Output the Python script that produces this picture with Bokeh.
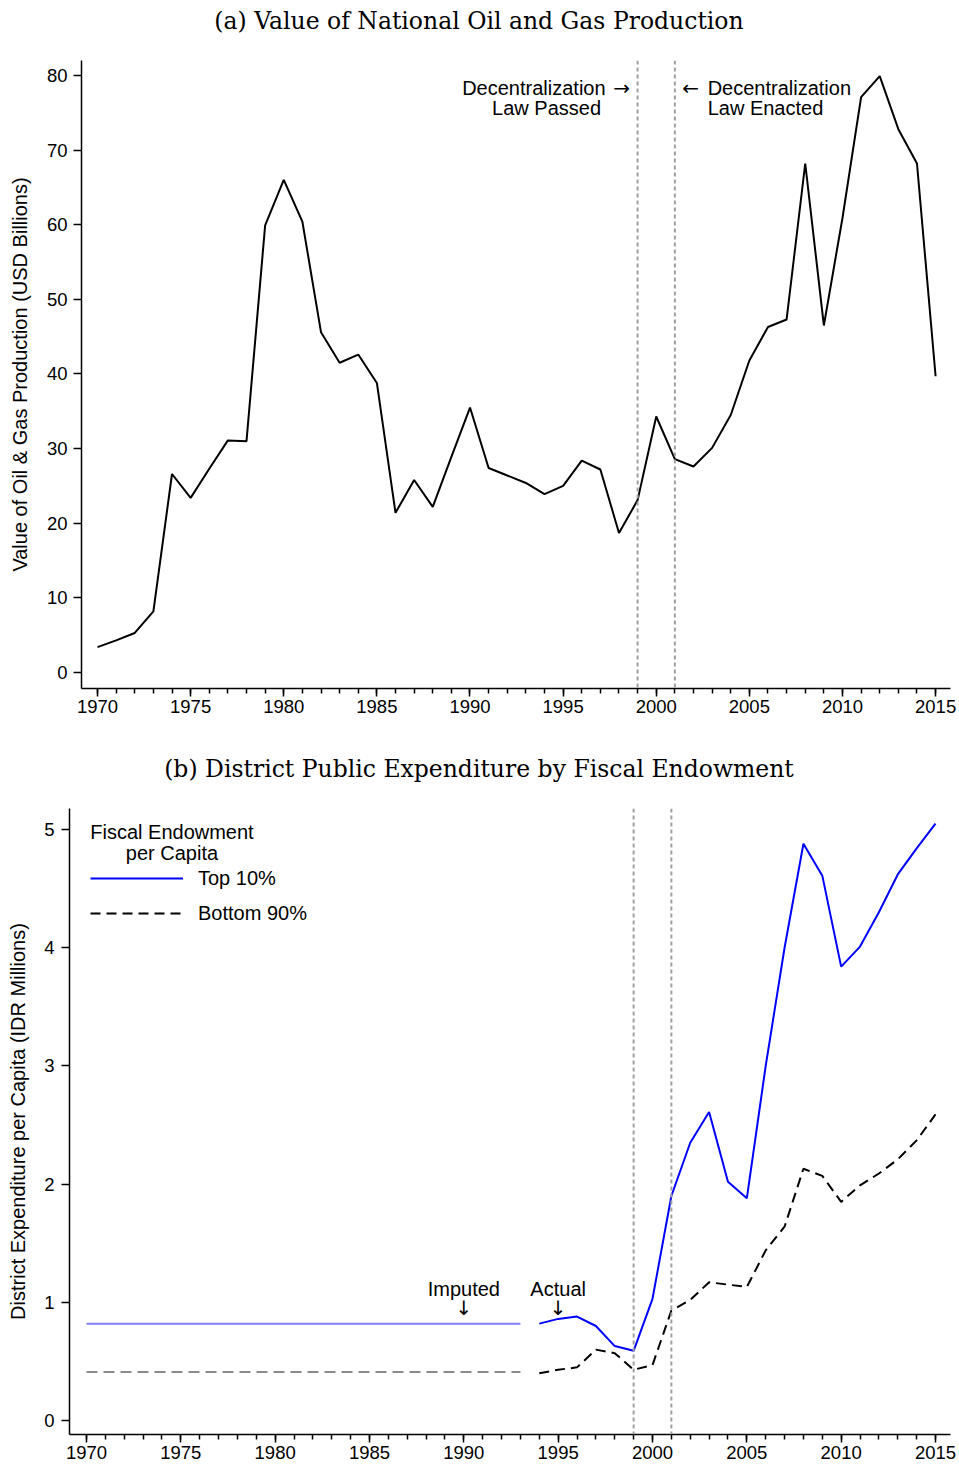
from bokeh.plotting import figure
from bokeh.layouts import column, row
from bokeh.models import Span, Label, Legend, LegendItem, SingleIntervalTicker, Range1d
from bokeh.embed import file_html
from bokeh.resources import INLINE

# ---- panel (a): value of national oil & gas production, USD billions
years = list(range(1970, 2016))
oil_gas_value = [3.4, 4.3, 5.3, 8.2, 26.6, 23.4, 27.3, 31.1, 31.0, 59.9,
                 66.0, 60.4, 45.6, 41.5, 42.6, 38.8, 21.4, 25.8, 22.2, 28.9,
                 35.5, 27.4, 26.4, 25.4, 23.9, 25.0, 28.4, 27.2, 18.7, 23.1,
                 34.3, 28.6, 27.6, 30.1, 34.5, 41.8, 46.3, 47.3, 68.2, 46.5,
                 60.9, 77.1, 79.9, 72.8, 68.2, 39.7]

# decentralization law passed / enacted
law_years = [1999, 2001]

# ---- panel (b): district expenditure per capita, IDR millions
imputed_years = [1970, 1971, 1972, 1973, 1974, 1975, 1976, 1977, 1978, 1979, 1980, 1981,
                 1982, 1983, 1984, 1985, 1986, 1987, 1988, 1989, 1990, 1991, 1992, 1993]
top10_imputed = [0.82, 0.82, 0.82, 0.82, 0.82, 0.82, 0.82, 0.82, 0.82, 0.82, 0.82, 0.82,
                 0.82, 0.82, 0.82, 0.82, 0.82, 0.82, 0.82, 0.82, 0.82, 0.82, 0.82, 0.82]
bottom90_imputed = [0.41, 0.41, 0.41, 0.41, 0.41, 0.41, 0.41, 0.41, 0.41, 0.41, 0.41, 0.41,
                    0.41, 0.41, 0.41, 0.41, 0.41, 0.41, 0.41, 0.41, 0.41, 0.41, 0.41, 0.41]

actual_years = [1994, 1995, 1996, 1997, 1998, 1999, 2000, 2001, 2002, 2003, 2004,
                2005, 2006, 2007, 2008, 2009, 2010, 2011, 2012, 2013, 2014, 2015]
top10_actual = [0.82, 0.86, 0.88, 0.80, 0.63, 0.59, 1.03, 1.90, 2.35, 2.61, 2.02,
                1.88, 3.00, 4.00, 4.88, 4.61, 3.84, 4.01, 4.30, 4.62, 4.84, 5.05]
bottom90_actual = [0.40, 0.43, 0.45, 0.60, 0.57, 0.43, 0.47, 0.93, 1.02, 1.17, 1.15,
                   1.13, 1.44, 1.64, 2.13, 2.07, 1.85, 1.99, 2.09, 2.21, 2.37, 2.59]

SANS = "Liberation Sans"
SERIF = "DejaVu Serif"
ARROWS = "DejaVu Sans"
W = 957
RIGHT = 7


def heading(text, height, y):
    # a thin axis-less strip that only carries the panel heading
    p = figure(width=W, height=height, output_backend="svg", toolbar_location=None,
               x_axis_type=None, y_axis_type=None,
               x_range=Range1d(81, W - RIGHT), y_range=Range1d(0, height),
               min_border_left=81, min_border_right=RIGHT, min_border_top=0, min_border_bottom=0)
    p.outline_line_color = None
    p.grid.visible = False
    p.add_layout(Label(x=W / 2, y=y, text=text, text_align="center", text_baseline="middle",
                       text_font=SERIF, text_font_size="23.5px", text_color="black"))
    return p


def style(p, y_interval, label, tick_standoff, label_standoff):
    p.outline_line_color = None
    p.grid.visible = False
    p.background_fill_color = "white"
    p.border_fill_color = "white"

    xa = p.xaxis[0]
    xa.ticker = SingleIntervalTicker(interval=5, num_minor_ticks=5)
    xa.major_tick_out = 8
    xa.major_tick_in = 0
    xa.minor_tick_out = 5
    xa.minor_tick_in = 0
    xa.major_label_standoff = 3
    xa.minor_tick_line_color = "black"

    ya = p.yaxis[0]
    ya.ticker = SingleIntervalTicker(interval=y_interval, num_minor_ticks=0)
    ya.major_tick_out = 8
    ya.major_tick_in = 0
    ya.minor_tick_line_color = None
    ya.major_label_standoff = tick_standoff
    ya.axis_label = label
    ya.axis_label_standoff = label_standoff
    ya.axis_label_text_font = SANS
    ya.axis_label_text_font_style = "normal"
    ya.axis_label_text_font_size = "20px"
    ya.axis_label_text_color = "black"

    for ax in (xa, ya):
        ax.axis_line_width = 1.5
        ax.major_tick_line_width = 1.5
        ax.minor_tick_line_width = 1.5
        ax.axis_line_color = "black"
        ax.major_tick_line_color = "black"
        ax.major_label_text_font = SANS
        ax.major_label_text_font_size = "18.5px"
        ax.major_label_text_color = "black"

    for yr in law_years:
        p.add_layout(Span(location=yr, dimension="height", line_color="#a0a0a0",
                          line_dash="4 3", line_width=2))


def note(p, x, y, text, align="center", font=SANS):
    p.add_layout(Label(x=x, y=y, text=text, text_align=align, text_baseline="middle",
                       text_font=font, text_font_size="20px", text_color="black"))


# ---------------- panel (a)
ha = heading("(a) Value of National Oil and Gas Production", 40, 20)

pa = figure(width=W, height=695, output_backend="svg", toolbar_location=None,
            x_range=Range1d(1969.14, 2015.8), y_range=Range1d(-2.14, 82.0),
            min_border_left=81, min_border_right=RIGHT, min_border_top=20, min_border_bottom=47)
style(pa, 10, "Value of Oil & Gas Production (USD Billions)", 6, 13)

pa.line(years, oil_gas_value, line_color="black", line_width=2)

note(pa, 1997.28, 78.3, "Decentralization", align="right")
note(pa, 1998.14, 78.3, "\u2192", font=ARROWS)
note(pa, 1994.11, 75.6, "Law Passed")
note(pa, 2001.85, 78.3, "\u2190", font=ARROWS)
note(pa, 2002.76, 78.3, "Decentralization", align="left")
note(pa, 2002.76, 75.6, "Law Enacted", align="left")

# ---------------- panel (b)
hb = heading("(b) District Public Expenditure by Fiscal Endowment", 55, 22)

pb = figure(width=W, height=675, output_backend="svg", toolbar_location=None,
            x_range=Range1d(1969.099, 2015.795), y_range=Range1d(-0.118, 5.178),
            min_border_left=69, min_border_right=RIGHT, min_border_top=18, min_border_bottom=31)
style(pb, 1, "District Expenditure per Capita (IDR Millions)", 7, 12)

pb.line(imputed_years, top10_imputed, line_color="#8080ff", line_width=2)
pb.line(imputed_years, bottom90_imputed, line_color="#8a8a8a", line_width=2, line_dash="11 6")
r_top = pb.line(actual_years, top10_actual, line_color="#0000ff", line_width=2)
r_bot = pb.line(actual_years, bottom90_actual, line_color="black", line_width=2, line_dash="10 6")

note(pb, 1990, 1.117, "Imputed")
note(pb, 1990, 0.948, "\u2193", font=ARROWS)
note(pb, 1995, 1.117, "Actual")
note(pb, 1995, 0.948, "\u2193", font=ARROWS)

note(pb, 1974.53, 4.975, "Fiscal Endowment")
note(pb, 1974.53, 4.805, "per Capita")

legend = Legend(items=[LegendItem(label="Top 10%", renderers=[r_top]),
                       LegendItem(label="Bottom 90%", renderers=[r_bot])],
                location=(21, 509), orientation="vertical",
                glyph_width=93, glyph_height=24, label_height=24, label_standoff=15,
                spacing=11, padding=0, margin=0,
                border_line_color=None, background_fill_alpha=0,
                label_text_font=SANS, label_text_font_size="20px",
                label_text_color="black")
pb.add_layout(legend)

# pb sits in its own row so its frame keeps its own left edge
out = column(ha, pa, hb, row(pb))
open("out.html", "w").write(file_html(out, INLINE))
